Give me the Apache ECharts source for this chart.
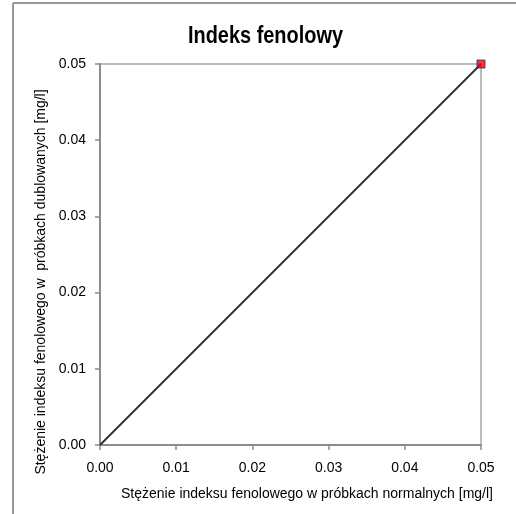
<!DOCTYPE html>
<html>
<head>
<meta charset="utf-8">
<script src="https://cdn.jsdelivr.net/npm/echarts@6/dist/echarts.min.js"></script>
<style>
  html, body { margin: 0; padding: 0; background: #fff; }
  #IndexChart { width: 516px; height: 514px; }
</style>
</head>
<body>
<div id="IndexChart"></div>
<script>
// linia odniesienia y = x
var lineX = [0, 0.05];
var lineY = [0, 0.05];
// wynik: próbka normalna vs dublowana
var pointX = [0.05];
var pointY = [0.05];

var axisMin = 0;
var axisMax = 0.05;
var axisStep = 0.01;

var lineData = [];
for (var i = 0; i < lineX.length; i++) {
  lineData.push([lineX[i], lineY[i]]);
}
var pointData = [];
for (var j = 0; j < pointX.length; j++) {
  pointData.push([pointX[j], pointY[j]]);
}

var chart = echarts.init(document.getElementById('IndexChart'));
var font = 'Liberation Sans, Arial, sans-serif';

chart.setOption({
  animation: false,
  backgroundColor: '#fff',
  graphic: [
    { type: 'line', shape: { x1: 13, y1: 3, x2: 516, y2: 3 }, style: { stroke: '#999', lineWidth: 2 } },
    { type: 'line', shape: { x1: 13, y1: 3, x2: 13, y2: 514 }, style: { stroke: '#999', lineWidth: 2 } },
    // tytuł - zwężony jak Arial Narrow
    {
      type: 'text',
      x: 188,
      y: 24,
      scaleX: 0.83,
      style: {
        text: 'Indeks fenolowy',
        x: 0,
        y: 0,
        fill: '#000',
        font: 'bold 24px Liberation Sans, Arial, sans-serif',
        textAlign: 'left',
        textVerticalAlign: 'top'
      }
    }
  ],
  grid: {
    left: 100,
    top: 64,
    width: 381,
    height: 381,
    show: true,
    borderColor: '#a6a6a6',
    borderWidth: 1.5
  },
  xAxis: {
    type: 'value',
    min: axisMin,
    max: axisMax,
    interval: axisStep,
    name: 'Stężenie indeksu fenolowego w próbkach normalnych [mg/l]',
    nameLocation: 'middle',
    nameGap: 42,
    nameTextStyle: { fontFamily: font, fontSize: 14, color: '#000', padding: [0, 0, 0, 33] },
    axisLine: { lineStyle: { color: '#8c8c8c', width: 2 } },
    axisTick: { show: true, inside: false, length: 5, lineStyle: { color: '#8c8c8c', width: 1.5 } },
    axisLabel: {
      margin: 16,
      fontFamily: font,
      fontSize: 14,
      color: '#000',
      formatter: function (v) { return v.toFixed(2); }
    },
    splitLine: { show: false }
  },
  yAxis: {
    type: 'value',
    min: axisMin,
    max: axisMax,
    interval: axisStep,
    name: 'Stężenie indeksu fenolowego w  próbkach dublowanych [mg/l]',
    nameLocation: 'middle',
    nameGap: 45,
    nameTextStyle: { fontFamily: font, fontSize: 14, color: '#000', padding: [0, 55, 0, 0] },
    axisLine: { lineStyle: { color: '#8c8c8c', width: 2 } },
    axisTick: { show: true, inside: false, length: 5, lineStyle: { color: '#8c8c8c', width: 1.5 } },
    axisLabel: {
      margin: 14,
      fontFamily: font,
      fontSize: 14,
      color: '#000',
      formatter: function (v) { return v.toFixed(2); }
    },
    splitLine: { show: false }
  },
  series: [
    {
      type: 'line',
      data: lineData,
      showSymbol: false,
      symbol: 'none',
      lineStyle: { color: '#333', width: 2 },
      silent: true
    },
    {
      type: 'scatter',
      data: pointData,
      symbol: 'rect',
      symbolSize: 8,
      clip: false,
      itemStyle: { color: '#ff0000', borderColor: '#1f2f5f', borderWidth: 1 },
      z: 5
    }
  ]
});
</script>
</body>
</html>
